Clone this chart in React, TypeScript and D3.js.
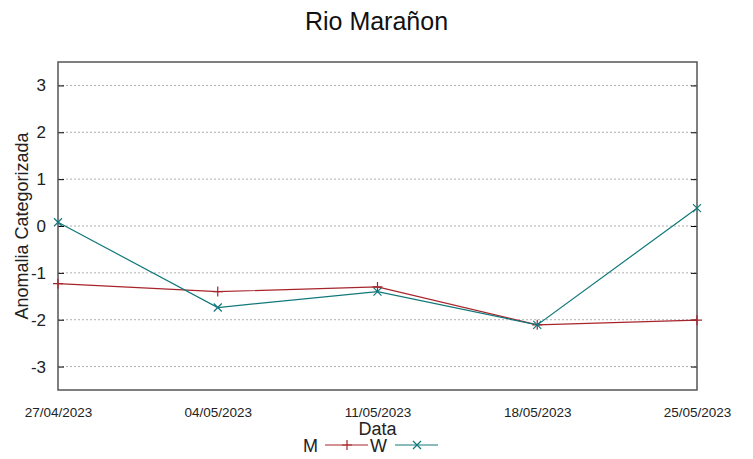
import { useEffect, useRef } from "react";
import * as d3 from "d3";

const dates = ["27/04/2023", "04/05/2023", "11/05/2023", "18/05/2023", "25/05/2023"];
const seriesM = [-1.23, -1.4, -1.3, -2.11, -2.01];
const seriesW = [0.08, -1.74, -1.4, -2.11, 0.38];
const yTicks = [-3, -2, -1, 0, 1, 2, 3];

const colorM = "#a8242b";
const colorW = "#10787a";

export default function App() {
    const svgRef = useRef<SVGSVGElement | null>(null);

    useEffect(() => {
        const width = 753;
        const height = 459;
        const marginLeft = 58;
        const marginRight = 56;
        const marginTop = 62;
        const marginBottom = 69;
        const font = "'Liberation Sans', Arial, sans-serif";

        const svg = d3.select(svgRef.current)
            .attr("width", width)
            .attr("height", height)
            .attr("viewBox", `0 0 ${width} ${height}`);
        svg.selectAll("*").remove();

        const parse = d3.timeParse("%d/%m/%Y");
        const parsed = dates.map(d => parse(d) as Date);

        const x = d3.scaleTime()
            .domain([parsed[0], parsed[parsed.length - 1]])
            .range([marginLeft, width - marginRight]);
        const y = d3.scaleLinear()
            .domain([-3.5, 3.5])
            .range([height - marginBottom, marginTop]);

        // grid
        svg.append("g")
            .selectAll("line")
            .data(yTicks)
            .join("line")
            .attr("x1", marginLeft)
            .attr("x2", width - marginRight)
            .attr("y1", d => y(d))
            .attr("y2", d => y(d))
            .attr("stroke", "#999")
            .attr("stroke-width", 0.8)
            .attr("stroke-dasharray", "2,2");

        // left axis
        svg.append("g")
            .attr("transform", `translate(${marginLeft},0)`)
            .call(d3.axisLeft(y).tickValues(yTicks).tickSize(-6).tickPadding(12).tickFormat(d => String(d)))
            .call(g => g.select(".domain").remove())
            .call(g => g.selectAll("line").attr("stroke", "#000"))
            .call(g => g.selectAll("text").attr("font-family", font).attr("font-size", 17).attr("fill", "#222"));

        // right mirror ticks
        svg.append("g")
            .attr("transform", `translate(${width - marginRight},0)`)
            .call(d3.axisRight(y).tickValues(yTicks).tickSize(-6).tickFormat(() => ""))
            .call(g => g.select(".domain").remove())
            .call(g => g.selectAll("line").attr("stroke", "#000"));

        // bottom axis labels
        svg.append("g")
            .attr("transform", `translate(0,${height - marginBottom})`)
            .call(d3.axisBottom(x).tickValues(parsed).tickSize(0).tickPadding(17).tickFormat(d => d3.timeFormat("%d/%m/%Y")(d as Date)))
            .call(g => g.select(".domain").remove())
            .call(g => g.selectAll("text").attr("font-family", font).attr("font-size", 13.5).attr("fill", "#222"));

        // border
        svg.append("rect")
            .attr("x", marginLeft)
            .attr("y", marginTop)
            .attr("width", width - marginLeft - marginRight)
            .attr("height", height - marginTop - marginBottom)
            .attr("fill", "none")
            .attr("stroke", "#555")
            .attr("stroke-width", 1.5);

        const line = d3.line<number>()
            .x((_, i) => x(parsed[i]))
            .y(d => y(d));

        const drawSeries = (vals: number[], color: string, marker: string) => {
            svg.append("path")
                .attr("d", line(vals))
                .attr("fill", "none")
                .attr("stroke", color)
                .attr("stroke-width", 1.2);
            svg.append("g")
                .selectAll("path")
                .data(vals)
                .join("path")
                .attr("transform", (d, i) => `translate(${x(parsed[i])},${y(d)})`)
                .attr("d", marker)
                .attr("stroke", color)
                .attr("stroke-width", 1.2)
                .attr("fill", "none");
        };
        const plus = "M-5,0H5M0,-5V5";
        const cross = "M-4,-4L4,4M-4,4L4,-4";
        drawSeries(seriesM, colorM, plus);
        drawSeries(seriesW, colorW, cross);

        // title
        svg.append("text")
            .attr("x", width / 2)
            .attr("y", 30)
            .attr("text-anchor", "middle")
            .attr("font-family", font)
            .attr("font-size", 25)
            .attr("fill", "#111")
            .text("Rio Marañon");

        // y label
        svg.append("text")
            .attr("transform", `translate(28,${(marginTop + height - marginBottom) / 2}) rotate(-90)`)
            .attr("text-anchor", "middle")
            .attr("font-family", font)
            .attr("font-size", 18)
            .attr("fill", "#222")
            .text("Anomalia Categorizada");

        // x label
        svg.append("text")
            .attr("x", (marginLeft + width - marginRight) / 2)
            .attr("y", 435)
            .attr("text-anchor", "middle")
            .attr("font-family", font)
            .attr("font-size", 18)
            .attr("fill", "#222")
            .text("Data");

        // legend
        const legend = [
            { name: "M", color: colorM, textX: 318, x0: 325, marker: plus },
            { name: "W", color: colorW, textX: 387, x0: 395, marker: cross },
        ];
        const ly = 445;
        legend.forEach(l => {
            svg.append("text")
                .attr("x", l.textX)
                .attr("y", ly + 7)
                .attr("text-anchor", "end")
                .attr("font-family", font)
                .attr("font-size", 18)
                .attr("fill", "#222")
                .text(l.name);
            svg.append("line")
                .attr("x1", l.x0)
                .attr("x2", l.x0 + 43)
                .attr("y1", ly)
                .attr("y2", ly)
                .attr("stroke", l.color)
                .attr("stroke-width", 1.2);
            svg.append("path")
                .attr("transform", `translate(${l.x0 + 22},${ly})`)
                .attr("d", l.marker)
                .attr("stroke", l.color)
                .attr("stroke-width", 1.2)
                .attr("fill", "none");
        });
    }, []);

    return (
        <div style={{ position: "absolute", left: 0, top: 0 }}>
            <svg ref={svgRef} style={{ display: "block", background: "#fff" }} />
        </div>
    );
}
